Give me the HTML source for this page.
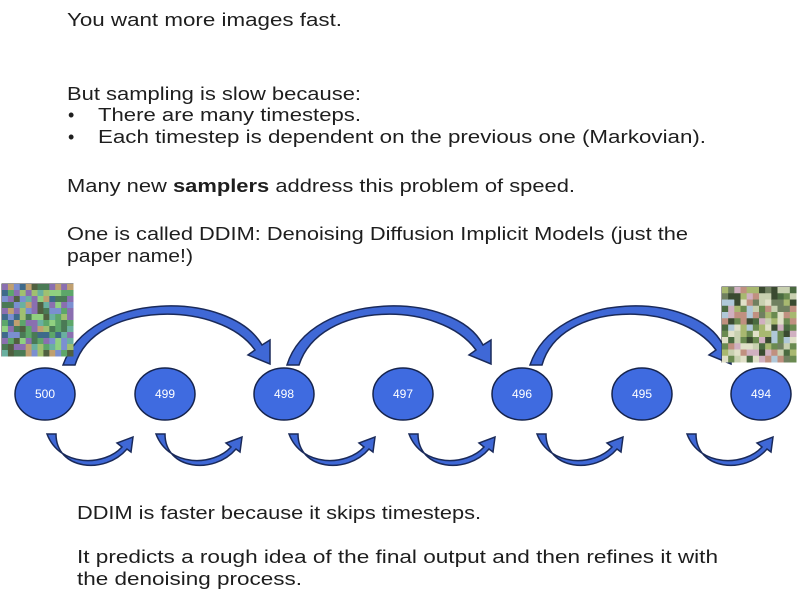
<!DOCTYPE html>
<html><head><meta charset="utf-8"><style>
body{margin:0;background:#fff;width:800px;height:602px;overflow:hidden}
svg{display:block}
.t{font-family:"Liberation Sans",sans-serif;font-size:18px;fill:#1e1e1e}
.n{font-family:"Liberation Sans",sans-serif;font-size:12px;fill:#fff;text-anchor:middle}
</style></head><body>
<svg width="800" height="602" viewBox="0 0 800 602" xmlns="http://www.w3.org/2000/svg">
<text class="t" x="67" y="26" textLength="275" lengthAdjust="spacingAndGlyphs">You want more images fast.</text>
<text class="t" x="67" y="100" textLength="294" lengthAdjust="spacingAndGlyphs">But sampling is slow because:</text>
<text class="t" x="68" y="121">•</text>
<text class="t" x="98" y="121" textLength="263" lengthAdjust="spacingAndGlyphs">There are many timesteps.</text>
<text class="t" x="68" y="143">•</text>
<text class="t" x="98" y="143" textLength="608" lengthAdjust="spacingAndGlyphs">Each timestep is dependent on the previous one (Markovian).</text>
<text class="t" x="67" y="192" textLength="508" lengthAdjust="spacingAndGlyphs">Many new <tspan font-weight="bold">samplers</tspan> address this problem of speed.</text>
<text class="t" x="67" y="240" textLength="621" lengthAdjust="spacingAndGlyphs">One is called DDIM: Denoising Diffusion Implicit Models (just the</text>
<text class="t" x="67" y="262" textLength="126" lengthAdjust="spacingAndGlyphs">paper name!)</text>
<text class="t" x="77" y="519" textLength="404" lengthAdjust="spacingAndGlyphs">DDIM is faster because it skips timesteps.</text>
<text class="t" x="77" y="563" textLength="641" lengthAdjust="spacingAndGlyphs">It predicts a rough idea of the final output and then refines it with</text>
<text class="t" x="77" y="585" textLength="225" lengthAdjust="spacingAndGlyphs">the denoising process.</text>

<g fill="#3f68d6" stroke="#1a2a5a" stroke-width="1.5">
<path d="M63,365 C90,290 230,290 262,345 L270,340 L270,364 L248,355 L255,350 C220,300 95,300 75,365 Z"/>
<path d="M287,365 C310,290 455,290 483,345 L491,340 L491,364 L469,355 L476,350 C440,300 320,300 299,365 Z"/>
<path d="M530,365 C555,290 695,290 723,345 L731,340 L731,364 L709,355 L716,350 C680,300 560,300 542,365 Z"/>
</g>
<g id="small" fill="#3f68d6" stroke="#1a2a5a" stroke-width="1.5">
<path d="M47,434 C60,468 105,466 122,447 L117,443 L133,437 L131,452 L127,449 C105,475 56,470 56,434 Z"/>
</g>
<use href="#small" x="109"/>
<use href="#small" x="242"/>
<use href="#small" x="362"/>
<use href="#small" x="490"/>
<use href="#small" x="640"/>
<g fill="#3f6be0" stroke="#16244d" stroke-width="1.5">
<ellipse cx="45" cy="394" rx="30" ry="26"/>
<ellipse cx="165" cy="394" rx="30" ry="26"/>
<ellipse cx="284" cy="394" rx="30" ry="26"/>
<ellipse cx="403" cy="394" rx="30" ry="26"/>
<ellipse cx="522" cy="394" rx="30" ry="26"/>
<ellipse cx="642" cy="394" rx="30" ry="26"/>
<ellipse cx="761" cy="394" rx="30" ry="26"/>
</g>
<text class="n" x="45" y="398">500</text>
<text class="n" x="165" y="398">499</text>
<text class="n" x="284" y="398">498</text>
<text class="n" x="403" y="398">497</text>
<text class="n" x="522" y="398">496</text>
<text class="n" x="642" y="398">495</text>
<text class="n" x="761" y="398">494</text>
<g id="img1"><rect x="2" y="284" width="71" height="72" fill="#6a8a70" stroke="#333"/></g>
<g id="img2"><rect x="722" y="287" width="74" height="75" fill="#8c9a78" stroke="#333"/></g>
</svg>
<script>
(function(){
 var ns="http://www.w3.org/2000/svg";
 function grid(id,x0,y0,w,h,n,pal,seed){
  var g=document.getElementById(id),s=seed;
  function r(){s=(s*9301+49297)%233280;return s/233280;}
  var cw=w/n,ch=h/n;
  for(var i=0;i<n;i++)for(var j=0;j<n;j++){
   var e=document.createElementNS(ns,"rect");
   e.setAttribute("x",x0+i*cw);e.setAttribute("y",y0+j*ch);
   e.setAttribute("width",cw+0.5);e.setAttribute("height",ch+0.5);
   e.setAttribute("fill",pal[Math.floor(r()*pal.length)]);g.appendChild(e);}
 }
 grid("img1",2,284,71,72,12,["#5da66a","#7b8fd0","#4a7a55","#a0c070","#8a6fb0","#3e6a8a","#c0a070","#6ab0a0","#90d080","#506040"],7);
 grid("img2",722,287,74,75,12,["#c8d0b0","#4a6a40","#b0c8d8","#6a8a50","#d0b0c0","#3a4a30","#a8b870","#c09080","#e0e0c8","#708060"],11);
})();
</script>
</body></html>
